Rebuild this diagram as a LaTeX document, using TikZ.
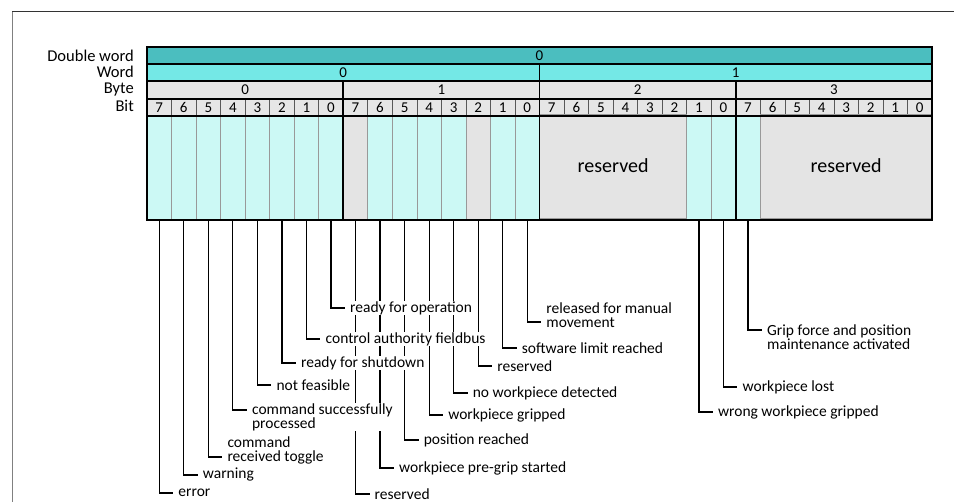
\documentclass[tikz,border=0pt]{standalone}
\usepackage{fontspec}
\setmainfont{Carlito}
\usepackage{xcolor}
\usetikzlibrary{positioning, backgrounds}

\definecolor{dwordcol}{HTML}{4BBEBF}
\definecolor{wordcol}{HTML}{74E8E6}
\definecolor{headcol}{HTML}{E6E6E6}
\definecolor{usedcol}{HTML}{CCF9F5}
\definecolor{rescol}{HTML}{E4E4E4}

\begin{document}
\begin{tikzpicture}[x=1pt, y=-1pt]
    % Styles
    \tikzstyle{head} = [rectangle, draw=gray!70!black, line width=0.6pt, inner sep=0pt, outer sep=0pt, font=\fontsize{15}{15}\selectfont]
    \tikzstyle{cell} = [rectangle, draw=gray!80, line width=0.6pt, inner sep=0pt, outer sep=0pt, minimum width=24.53pt, minimum height=104pt]
    \tikzstyle{rowname} = [anchor=east, inner sep=0pt, font=\fontsize{16.5}{16}\selectfont]
    \tikzstyle{lbl} = [anchor=west, fill=white, inner xsep=5pt, inner ysep=0.5pt, align=left, font=\fontsize{15.5}{14}\selectfont]
    \tikzstyle{leader} = [draw, line width=1.2pt]
    \tikzstyle{bold} = [draw, line width=1.6pt]

    \useasboundingbox (0,0) rectangle (954,502);
    \draw[gray, line width=0.8pt] (12,502) -- (12,11);
    \draw[black!80, line width=0.8pt] (12,11) -- (954,11);

    % --- HEADER ROWS ---
    \node[rowname] (ndw) at (134,55.5) {Double word};
    \node[rowname] (nw) at (134,71.5) {Word};
    \node[rowname] (nby) at (134,89.5) {Byte};
    \node[rowname] (nbi) at (134,105.5) {Bit};

    \node[head, fill=dwordcol, minimum width=785pt, minimum height=17pt] (dw) at (539.5,55.5) {0};
    \node[head, fill=wordcol, minimum width=392.5pt, minimum height=17pt] (w0) at (343.25,72.5) {0};
    \node[head, fill=wordcol, minimum width=392.5pt, minimum height=17pt] (w1) at (735.75,72.5) {1};
    \foreach \k in {0,1,2,3} {
        \pgfmathsetmacro{\bx}{245.125+\k*196.25}
        \node[head, fill=headcol, minimum width=196.25pt, minimum height=18pt] (by\k) at (\bx,90) {\k};
    }
    \foreach \i in {0,...,31} {
        \pgfmathsetmacro{\cx}{147+(\i+0.5)*24.53125}
        \pgfmathtruncatemacro{\bn}{7-mod(\i,8)}
        \node[head, fill=headcol, minimum width=24.53pt, minimum height=17pt] (bit\i) at (\cx,107.5) {\bn};
    }

    % --- BIT CELLS ---
    \foreach \i in {0,...,7,9,10,11,12,14,15,22,23,24} {
        \pgfmathsetmacro{\cx}{147+(\i+0.5)*24.53125}
        \node[cell, fill=usedcol] (b\i) at (\cx,168) {};
    }
    \foreach \i in {8,13} {
        \pgfmathsetmacro{\cx}{147+(\i+0.5)*24.53125}
        \node[cell, fill=rescol] (b\i) at (\cx,168) {};
    }
    \node[cell, fill=rescol, minimum width=147.19pt, font=\fontsize{20}{20}\selectfont] (res2) at (613.09,166) {reserved};
    \node[cell, fill=rescol, minimum width=171.72pt, font=\fontsize{20}{20}\selectfont] (res3) at (846.14,166) {reserved};

    % --- FRAME LINES ---
    \path[bold] (147,47) rectangle (932,220);
    \foreach \ry in {64,81,99,116} \path[bold] (147,\ry) -- (932,\ry);
    \path[bold] (539.5,64) -- (539.5,220);
    \path[bold] (343.25,81) -- (343.25,220);
    \path[bold] (735.75,81) -- (735.75,220);

    % --- LABELS ---
    \foreach \i/\ly/\txt in {0/493/error, 1/475/warning, 4/385/not feasible, 5/363/ready for shutdown,
        6/339/control authority fieldbus, 7/308/ready for operation, 8/494/reserved,
        9/468/workpiece pre-grip started, 10/440/position reached, 11/415/workpiece gripped,
        12/393/no workpiece detected, 13/366/reserved, 14/348/software limit reached,
        22/412/wrong workpiece gripped, 23/387/workpiece lost} {
        \pgfmathsetmacro{\cx}{147+(\i+0.5)*24.53125}
        \node[lbl] (l\i) at (\cx+14,\ly) {\txt};
        \begin{pgfonlayer}{background}
            \path[leader] (b\i.south) |- (l\i.west);
        \end{pgfonlayer}
    }

    % two-line labels
    \node[lbl] (l2) at (222.3,450) {command\\received toggle};
    \node[lbl] (l3) at (246.9,417) {command successfully\\processed};
    \node[lbl] (l15) at (541.2,315) {released for manual\\movement};
    \node[lbl] (l24) at (762.0,337) {Grip force and position\\maintenance activated};

    \begin{pgfonlayer}{background}
        \path[leader] (b2.south) |- ([yshift=-7pt]l2.west);
        \path[leader] (b3.south) |- ([yshift=7pt]l3.west);
        \path[leader] (b15.south) |- ([yshift=-7pt]l15.west);
        \path[leader] (b24.south) |- ([yshift=7pt]l24.west);
    \end{pgfonlayer}

\end{tikzpicture}
\end{document}
